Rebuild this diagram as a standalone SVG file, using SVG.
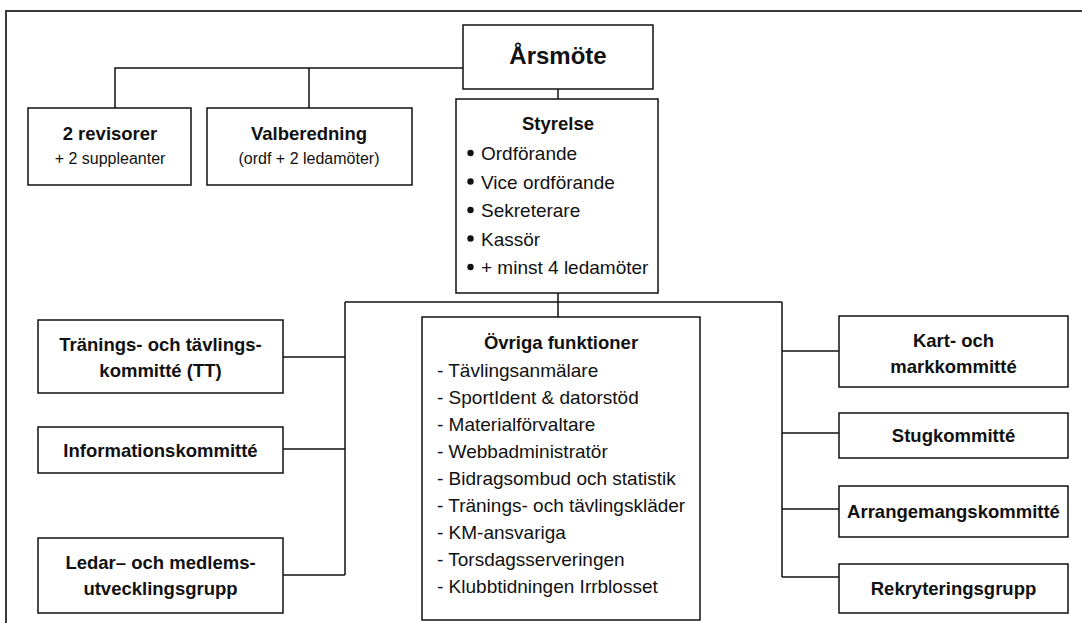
<svg xmlns="http://www.w3.org/2000/svg" width="1082" height="623" viewBox="0 0 1082 623">
<style>
.box{fill:#fff;stroke:#111;stroke-width:1.5}
.ln{fill:none;stroke:#111;stroke-width:1.5}
.frame{fill:none;stroke:#3a3a3a;stroke-width:2}
text{font-family:"Liberation Sans",Arial,sans-serif;fill:#111}
.b{font-weight:bold;font-size:18.5px}
.big{font-weight:bold;font-size:24px}
.r{font-size:19px}
.s{font-size:16px}
.c{text-anchor:middle}
.dot{fill:#111}
</style>
<rect width="1082" height="623" fill="#fff"/>
<path class="frame" d="M6,623 V11 H1082"/>
<g id="connectors">
<path class="ln" d="M463,68 H115 V108 M309,68 V108"/>
<path class="ln" d="M558,89 V99"/>
<path class="ln" d="M558,293 V317 M345,302 H782"/>
<path class="ln" d="M345,302 V575 M283,357 H345 M283,449 H345 M283,575 H345"/>
<path class="ln" d="M782,302 V577 M782,351 H839 M782,433 H839 M782,509 H839 M782,577 H839"/>
</g>
<g id="arsmote">
<rect class="box" x="463" y="25" width="190" height="64"/>
<text class="big c" x="558" y="64">Årsmöte</text>
</g>
<g id="revisorer">
<rect class="box" x="28" y="108" width="163" height="77"/>
<text class="b c" x="110" y="140">2 revisorer</text>
<text class="s c" x="110" y="164">+ 2 suppleanter</text>
</g>
<g id="valberedning">
<rect class="box" x="207" y="108" width="205" height="77"/>
<text class="b c" x="309" y="140">Valberedning</text>
<text class="s c" x="309" y="164">(ordf + 2 ledamöter)</text>
</g>
<g id="styrelse">
<rect class="box" x="456" y="99" width="202" height="194"/>
<text class="b c" x="558" y="130">Styrelse</text>
<circle class="dot" cx="470.5" cy="153" r="3.2"/>
<circle class="dot" cx="470.5" cy="181.5" r="3.2"/>
<circle class="dot" cx="470.5" cy="210" r="3.2"/>
<circle class="dot" cx="470.5" cy="238.5" r="3.2"/>
<circle class="dot" cx="470.5" cy="267" r="3.2"/>
<text class="r" x="481" y="160">Ordförande</text>
<text class="r" x="481" y="188.5">Vice ordförande</text>
<text class="r" x="481" y="217">Sekreterare</text>
<text class="r" x="481" y="245.5">Kassör</text>
<text class="r" x="481" y="274">+ minst 4 ledamöter</text>
</g>
<g id="tt">
<rect class="box" x="38" y="320" width="245" height="73"/>
<text class="b c" x="160.5" y="351">Tränings- och tävlings-</text>
<text class="b c" x="160.5" y="377">kommitté (TT)</text>
</g>
<g id="info">
<rect class="box" x="38" y="427" width="245" height="46"/>
<text class="b c" x="160.5" y="456.5">Informationskommitté</text>
</g>
<g id="ledar">
<rect class="box" x="38" y="538" width="245" height="75"/>
<text class="b c" x="160.5" y="569">Ledar– och medlems-</text>
<text class="b c" x="160.5" y="595">utvecklingsgrupp</text>
</g>
<g id="ovriga">
<rect class="box" x="422" y="317" width="278" height="303"/>
<text class="b c" x="561" y="349">Övriga funktioner</text>
<text class="r" x="437" y="377">- Tävlingsanmälare</text>
<text class="r" x="437" y="404">- SportIdent &amp; datorstöd</text>
<text class="r" x="437" y="431">- Materialförvaltare</text>
<text class="r" x="437" y="458">- Webbadministratör</text>
<text class="r" x="437" y="485">- Bidragsombud och statistik</text>
<text class="r" x="437" y="512">- Tränings- och tävlingskläder</text>
<text class="r" x="437" y="539">- KM-ansvariga</text>
<text class="r" x="437" y="566">- Torsdagsserveringen</text>
<text class="r" x="437" y="593">- Klubbtidningen Irrblosset</text>
</g>
<g id="kart">
<rect class="box" x="839" y="316" width="229" height="71"/>
<text class="b c" x="953.5" y="346.5">Kart- och</text>
<text class="b c" x="953.5" y="373">markkommitté</text>
</g>
<g id="stug">
<rect class="box" x="839" y="413" width="229" height="45"/>
<text class="b c" x="953.5" y="442">Stugkommitté</text>
</g>
<g id="arr">
<rect class="box" x="839" y="486" width="229" height="51"/>
<text class="b c" x="953.5" y="518">Arrangemangskommitté</text>
</g>
<g id="rekr">
<rect class="box" x="839" y="564" width="229" height="49"/>
<text class="b c" x="953.5" y="595">Rekryteringsgrupp</text>
</g>
</svg>
